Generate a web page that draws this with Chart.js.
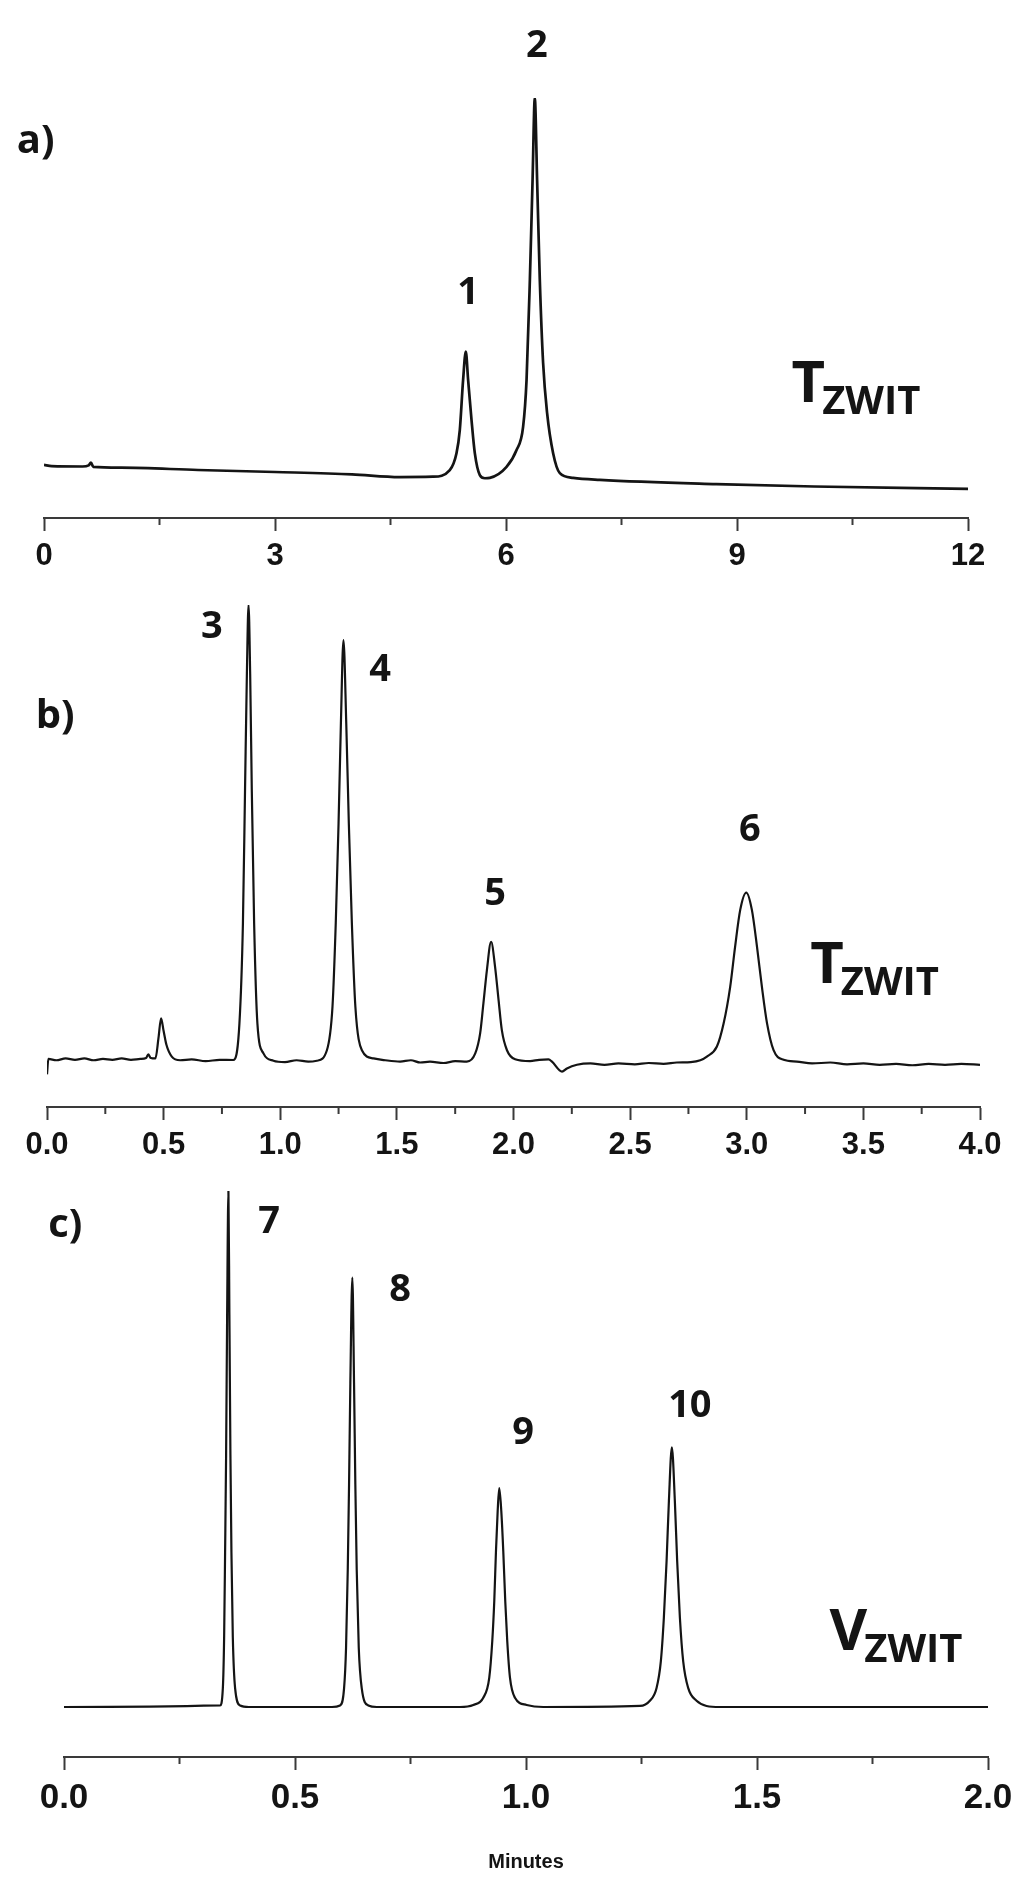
<!DOCTYPE html>
<html>
<head>
<meta charset="utf-8">
<title>Chromatograms</title>
<script src="https://cdn.jsdelivr.net/npm/chart.js@4.4.1/dist/chart.umd.min.js"></script>
<style>
  body { margin: 0; background: #fff; }
  .panel { position: absolute; left: 0; }
</style>
</head>
<body>
<canvas id="chartA" class="panel" style="top:0"></canvas>
<canvas id="chartB" class="panel" style="top:580px"></canvas>
<canvas id="chartC" class="panel" style="top:1160px"></canvas>
<script>
// a) T_ZWIT, 0-12 min
const timeA = [0, 0.1, 0.5, 0.58, 0.61, 0.64, 1.0, 2.0, 3.0, 4.0, 4.62, 5.05, 5.27, 5.357, 5.40, 5.443, 5.478,
  5.508, 5.552, 5.595, 5.66, 5.725, 5.79, 6.007, 6.137, 6.222, 6.267, 6.31, 6.345, 6.374, 6.404, 6.439,
  6.482, 6.534, 6.612, 6.699, 6.872, 7.219, 8.73, 10.0, 12.0];
const signalA = [6.4, 6.1, 6.0, 6.3, 7.0, 5.9, 5.7, 5.1, 4.6, 4.0, 3.3, 3.4, 5.1, 9.4, 15.3, 28.1, 35.3,
  28.1, 17.9, 9.4, 3.8, 3.0, 3.1, 5.9, 10.2, 16.1, 28.1, 53.6, 79.1, 100, 79.1, 53.6,
  32.4, 19.6, 9.4, 4.3, 3.1, 2.6, 1.5, 0.9, 0.3];
const ticksA = [0, 3, 6, 9, 12];
const tickLabelsA = ['0', '3', '6', '9', '12'];
const minorA = [1.5, 4.5, 7.5, 10.5];
const peakIdsA = ['1', '2'];
const peakIdTimeA = [5.508, 6.40];
const peakIdLevelA = [50.2, 113.3];

// b) T_ZWIT, 0-4 min
const timeB = [0, 0.006, 0.04, 0.08, 0.12, 0.16, 0.2, 0.24, 0.28, 0.32, 0.36, 0.40, 0.425, 0.434, 0.445,
  0.465, 0.478, 0.489, 0.50, 0.512, 0.535, 0.571, 0.62, 0.68, 0.74, 0.799, 0.825, 0.840, 0.849, 0.857,
  0.864, 0.871, 0.878, 0.888, 0.902, 0.928, 0.971, 1.02, 1.07, 1.12, 1.157, 1.200, 1.224, 1.238, 1.250,
  1.260, 1.271, 1.283, 1.294, 1.307, 1.322, 1.350, 1.400, 1.45, 1.514, 1.56, 1.60, 1.642, 1.70, 1.75,
  1.800, 1.836, 1.857, 1.871, 1.886, 1.904, 1.921, 1.936, 1.950, 1.972, 2.007, 2.071, 2.11, 2.150,
  2.165, 2.208, 2.229, 2.272, 2.33, 2.39, 2.45, 2.52, 2.58, 2.643, 2.70, 2.76, 2.801, 2.829, 2.872,
  2.901, 2.929, 2.950, 2.972, 2.998, 3.022, 3.044, 3.065, 3.087, 3.115, 3.158, 3.215, 3.28, 3.358,
  3.43, 3.50, 3.57, 3.64, 3.71, 3.78, 3.85, 3.92, 4.0];
const signalB = [-3.0, 0.4, 0.1, 0.5, 0.2, 0.5, 0.1, 0.4, 0.2, 0.5, 0.2, 0.4, 0.6, 1.4, 0.6,
  0.5, 5.0, 9.3, 6.5, 3.5, 0.9, 0.1, 0.3, -0.1, 0.2, 0.15, 8.2, 30.2, 59.4, 85.0,
  100, 85.0, 59.4, 30.2, 8.2, 1.6, 0.0, -0.3, 0.1, -0.2, 0.0, 2.3, 11.9, 30.2, 52.1,
  74.0, 92.3, 74.0, 52.1, 30.2, 11.9, 2.3, 0.5, 0.1, -0.2, 0.1, -0.4, -0.2, -0.5, -0.1,
  -0.2, 1.6, 6.0, 12.6, 19.9, 26.1, 20.6, 13.3, 6.7, 2.3, 0.3, -0.1, 0.2, 0.3,
  -0.2, -2.4, -1.7, -0.9, -0.6, -0.9, -0.6, -0.8, -0.5, -0.7, -0.4, -0.3, 0.1, 0.9, 3.1,
  8.2, 16.2, 25.0, 33.1, 36.9, 33.1, 25.0, 16.2, 8.2, 2.3, 0.2, -0.2, -0.6, -0.4,
  -0.8, -0.6, -0.9, -0.7, -1.0, -0.7, -0.9, -0.7, -0.9];
const ticksB = [0, 0.5, 1.0, 1.5, 2.0, 2.5, 3.0, 3.5, 4.0];
const tickLabelsB = ['0.0', '0.5', '1.0', '1.5', '2.0', '2.5', '3.0', '3.5', '4.0'];
const minorB = [0.25, 0.75, 1.25, 1.75, 2.25, 2.75, 3.25, 3.75];
const peakIdsB = ['3', '4', '5', '6'];
const peakIdTimeB = [0.707, 1.428, 1.9215, 3.013];
const peakIdLevelB = [95.1, 85.7, 36.6, 50.6];

// c) V_ZWIT, 0-2 min
const timeC = [0, 0.3379, 0.3438, 0.3466, 0.3487, 0.3509, 0.3531, 0.3559, 0.3580, 0.3602, 0.3624, 0.3654,
  0.3704, 0.3812, 0.40, 0.58, 0.5975, 0.6062, 0.6105, 0.6142, 0.6170, 0.6198, 0.6241, 0.6278, 0.6306,
  0.6336, 0.6380, 0.6445, 0.6587, 0.6769, 0.8571, 0.8859, 0.9075, 0.9205, 0.9270, 0.9313, 0.9350,
  0.9387, 0.9421, 0.9465, 0.9508, 0.9551, 0.9594, 0.9653, 0.9761, 1.0014, 1.0373, 1.2465, 1.2681,
  1.2826, 1.2919, 1.2984, 1.3043, 1.3093, 1.3157, 1.3222, 1.3272, 1.3331, 1.3402, 1.3510, 1.3692,
  1.3908, 1.4196, 2.0];
const signalC = [0, 0.3, 3.6, 13.5, 30, 49, 76, 100, 76, 49, 30, 13.5,
  3.6, 0.3, 0, 0, 0.3, 3.6, 11.5, 26.6, 43.1, 62.8, 83.2, 62.8, 43.1,
  26.6, 11.5, 3.6, 0.3, 0, 0, 0.4, 1.8, 5.7, 12.8, 20.5, 30.2,
  38.0, 42.4, 38.0, 30.2, 20.5, 12.8, 5.7, 1.8, 0.4, 0, 0.2, 1.2,
  3.7, 8.9, 17.3, 28.3, 39.9, 50.3, 39.9, 28.3, 17.3, 8.9, 3.7, 1.2,
  0.2, 0, 0];
const ticksC = [0, 0.5, 1.0, 1.5, 2.0];
const tickLabelsC = ['0.0', '0.5', '1.0', '1.5', '2.0'];
const minorC = [0.25, 0.75, 1.25, 1.75];
const peakIdsC = ['7', '8', '9', '10'];
const peakIdTimeC = [0.444, 0.7274, 0.994, 1.3547];
const peakIdLevelC = [93.9, 80.8, 53.0, 58.3];

const INK = '#141414';
const AXIS = '#3a3a3a';
const LABEL_FONT = '"Open Sans", "DejaVu Sans", sans-serif';
const TICK_FONT = '"Liberation Sans", Arial, sans-serif';

// minor ticks, peak numbers, panel letter and column name
const notesPlugin = {
  id: 'notes',
  afterDraw(chart, args, o) {
    const ctx = chart.ctx;
    const x = chart.scales.x, y = chart.scales.y;
    const bottom = chart.chartArea.bottom;
    ctx.save();
    ctx.strokeStyle = AXIS;
    ctx.lineWidth = 2;
    o.minor.forEach(v => {
      const px = x.getPixelForValue(v);
      ctx.beginPath();
      ctx.moveTo(px, bottom);
      ctx.lineTo(px, bottom + 7);
      ctx.stroke();
    });

    ctx.fillStyle = INK;
    ctx.textAlign = 'center';
    ctx.textBaseline = 'middle';
    ctx.font = `bold 38px ${LABEL_FONT}`;
    o.ids.forEach((s, i) => {
      ctx.fillText(s, x.getPixelForValue(o.idT[i]), y.getPixelForValue(o.idV[i]));
    });
    ctx.font = `bold 40px ${LABEL_FONT}`;
    ctx.fillText(o.letter[0], x.getPixelForValue(o.letter[1]), y.getPixelForValue(o.letter[2]));

    // e.g. T with ZWIT as subscript
    const cx = x.getPixelForValue(o.column[2]);
    const cy = y.getPixelForValue(o.column[3]);
    ctx.textAlign = 'left';
    ctx.textBaseline = 'alphabetic';
    ctx.font = `bold 58px ${LABEL_FONT}`;
    ctx.fillText(o.column[0], cx, cy);
    const w = ctx.measureText(o.column[0]).width;
    ctx.font = `bold 40px ${LABEL_FONT}`;
    ctx.fillText(o.column[1], cx + w - 3, cy + 12);
    ctx.restore();
  }
};

function makePanel(id, size, pad, axisH, t, s, range, ticks, tickLabels, tickSize, notes, title) {
  const canvas = document.getElementById(id);
  canvas.width = size[0];
  canvas.height = size[1];
  return new Chart(canvas, {
    type: 'line',
    data: {
      datasets: [{
        data: t.map((v, i) => ({ x: v, y: s[i] })),
        borderColor: INK,
        borderWidth: notes.lineWidth,
        pointRadius: 0,
        cubicInterpolationMode: 'monotone',
        fill: false
      }]
    },
    options: {
      responsive: false,
      animation: false,
      events: [],
      layout: { padding: pad },
      plugins: {
        legend: { display: false },
        tooltip: { enabled: false },
        notes: notes
      },
      scales: {
        x: {
          type: 'linear',
          min: ticks[0],
          max: ticks[ticks.length - 1],
          afterBuildTicks: sc => { sc.ticks = ticks.map(v => ({ value: v })); },
          afterFit: sc => { sc.height = axisH; },
          border: { display: true, color: AXIS, width: 2 },
          grid: { drawOnChartArea: false, drawTicks: true, tickLength: 13, tickWidth: 2, tickColor: AXIS },
          ticks: {
            color: INK,
            padding: 7,
            maxRotation: 0,
            autoSkip: false,
            font: { family: TICK_FONT, weight: 'bold', size: tickSize },
            callback: (v, i) => tickLabels[i]
          },
          title: title ? {
            display: true,
            text: title,
            color: INK,
            font: { family: TICK_FONT, weight: 'bold', size: 20 },
            padding: { top: 0, bottom: 17 }
          } : { display: false }
        },
        y: { display: false, min: range[0], max: range[1] }
      }
    },
    plugins: [notesPlugin]
  });
}

makePanel('chartA', [1021, 580], { left: 44, right: 53, top: 98, bottom: 0 }, 62,
  timeA, signalA, [-7.14, 100], ticksA, tickLabelsA, 31,
  { minor: minorA, ids: peakIdsA, idT: peakIdTimeA, idV: peakIdLevelA, lineWidth: 2.7,
    letter: ['a)', -0.108, 88.9], column: ['T', 'ZWIT', 9.709, 22.5] });

makePanel('chartB', [1021, 590], { left: 47, right: 41, top: 25, bottom: 0 }, 63,
  timeB, signalB, [-10.16, 100], ticksB, tickLabelsB, 31,
  { minor: minorB, ids: peakIdsB, idT: peakIdTimeB, idV: peakIdLevelB, lineWidth: 2.2,
    letter: ['b)', 0.035, 75.6], column: ['T', 'ZWIT', 3.272, 17.05] });

makePanel('chartC', [1021, 731], { left: 64, right: 33, top: 31, bottom: 0 }, 134,
  timeC, signalC, [-9.69, 100], ticksC, tickLabelsC, 35,
  { minor: minorC, ids: peakIdsC, idT: peakIdTimeC, idV: peakIdLevelC, lineWidth: 2.2,
    letter: ['c)', 0.0026, 93.2], column: ['V', 'ZWIT', 1.657, 11.0] }, 'Minutes');
</script>
</body>
</html>
